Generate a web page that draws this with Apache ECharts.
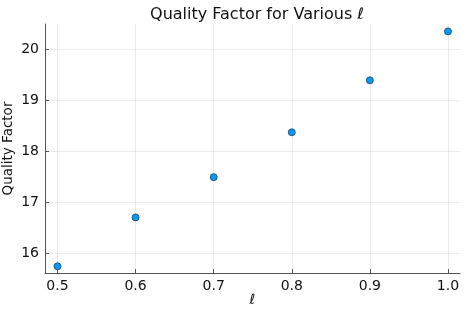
<!DOCTYPE html>
<html><head><meta charset="utf-8">
<script src="https://cdn.jsdelivr.net/npm/echarts@6/dist/echarts.min.js"></script>
<style>html,body{margin:0;padding:0;background:#fff}#c{width:469px;height:313px}</style>
</head><body><div id="c"></div>
<script>
const ellValues = [0.5, 0.6, 0.7, 0.8, 0.9, 1.0];
const qualityFactor = [15.74, 16.70, 17.49, 18.37, 19.39, 20.35];
const xTicks = [0.5, 0.6, 0.7, 0.8, 0.9, 1.0];
const yTicks = [16, 17, 18, 19, 20];

const font = 'DejaVu Sans';
const axisCol = '#555';
const chart = echarts.init(document.getElementById('c'), null, {renderer: 'canvas'});
chart.setOption({
  animation: false,
  backgroundColor: '#fff',
  title: {
    text: 'Quality Factor for Various ℓ',
    left: 252, top: 2, textAlign: 'center',
    textStyle: {fontFamily: font, fontSize: 16, fontWeight: 'normal', color: '#111'}
  },
  grid: {left: 45, right: 9, top: 24, bottom: 40, outerBoundsMode: 'none', containLabel: false},
  xAxis: {
    type: 'value', min: 0.484, max: 1.0154,
    name: 'ℓ', nameLocation: 'middle', nameGap: 20, nameMoveOverlap: false,
    nameTextStyle: {fontFamily: font, fontSize: 14, color: '#111', fontStyle: 'italic'},
    axisLine: {show: true, onZero: false, lineStyle: {color: axisCol, width: 1}},
    axisTick: {show: true, inside: true, length: 4, customValues: xTicks, lineStyle: {color: axisCol}},
    axisLabel: {customValues: xTicks, fontFamily: font, fontSize: 14, color: '#111', margin: 6,
      formatter: v => v.toFixed(1)},
    splitLine: {show: true, lineStyle: {color: 'rgba(0,0,0,0.08)', width: 1}}
  },
  yAxis: {
    type: 'value', min: 15.609, max: 20.495,
    name: 'Quality Factor', nameLocation: 'middle', nameGap: 30, nameRotate: 90, nameMoveOverlap: false,
    nameTextStyle: {fontFamily: font, fontSize: 13.5, color: '#111'},
    axisLine: {show: true, onZero: false, lineStyle: {color: axisCol, width: 1}},
    axisTick: {show: true, inside: true, length: 4, customValues: yTicks, lineStyle: {color: axisCol}},
    axisLabel: {customValues: yTicks, fontFamily: font, fontSize: 14, color: '#111', margin: 6,
      formatter: v => String(Math.round(v))},
    splitLine: {show: true, lineStyle: {color: 'rgba(0,0,0,0.08)', width: 1}}
  },
  series: [{
    type: 'scatter',
    data: ellValues.map((x, i) => [x, qualityFactor[i]]),
    symbol: 'circle', symbolSize: 7,
    itemStyle: {color: '#009AFA', borderColor: '#23415e', borderWidth: 0.8, opacity: 1}
  }]
});
</script></body></html>
